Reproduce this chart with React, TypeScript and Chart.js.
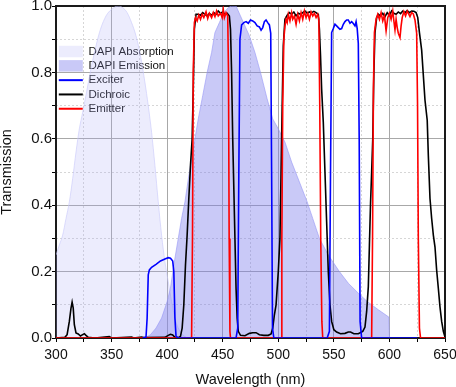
import React, { useEffect, useRef } from 'react';
import { Chart, registerables } from 'chart.js';

Chart.register(...registerables);

const FONT = '"Liberation Sans", Arial, sans-serif';

// DAPI absorption spectrum (normalised)
const absWl = [300, 303, 306, 309, 312, 315, 318, 321, 324, 328, 332, 336, 340, 345, 350, 356, 360, 364, 368, 372, 376, 380, 383, 386, 389, 392, 395, 398, 401, 404, 407, 410, 414, 418];
const absT = [0.25, 0.28, 0.31, 0.36, 0.41, 0.48, 0.56, 0.63, 0.68, 0.75, 0.82, 0.88, 0.93, 0.97, 0.99, 1.0, 0.995, 0.98, 0.95, 0.91, 0.85, 0.77, 0.7, 0.62, 0.52, 0.41, 0.31, 0.23, 0.17, 0.11, 0.06, 0.03, 0.01, 0];

// DAPI emission spectrum (normalised)
const emWl = [380, 385, 390, 395, 400, 403, 406, 410, 413, 416, 420, 424, 428, 432, 436, 440, 443, 447, 451, 455, 458, 462, 466, 470, 474, 479, 484, 490, 495, 500, 506, 512, 519, 526, 531, 537, 545, 555, 563, 572, 580, 590, 599.5, 600];
const emT = [0, 0.01, 0.03, 0.06, 0.11, 0.15, 0.22, 0.3, 0.36, 0.41, 0.5, 0.58, 0.66, 0.73, 0.8, 0.86, 0.92, 0.95, 0.98, 0.995, 1.0, 1.0, 0.97, 0.94, 0.91, 0.86, 0.8, 0.72, 0.66, 0.63, 0.59, 0.53, 0.47, 0.41, 0.36, 0.3, 0.25, 0.2, 0.165, 0.135, 0.11, 0.085, 0.063, 0];

// Exciter filter
const exWl = [
  378, 381, 382, 383, 384, 386, 390, 394, 398, 401, 403, 405, 406, 407, 408, 410,
  462, 463.5, 464.5, 465.5, 467, 469, 471, 473, 475, 477, 479, 481, 483, 484.5, 486, 487.5, 489, 490.5, 492, 493.2, 494, 494.8, 496,
  544, 546, 547, 548, 549.5, 551, 552.5, 554, 555.5, 557, 558.5, 560, 561.5, 563, 564.5, 566, 567.5, 569, 570, 571, 572, 572.8, 573.6, 575, 625,
];
const exT = [
  0, 0.003, 0.06, 0.19, 0.205, 0.213, 0.222, 0.232, 0.238, 0.242, 0.24, 0.232, 0.2, 0.06, 0.005, 0,
  0, 0.03, 0.5, 0.9, 0.943, 0.95, 0.953, 0.948, 0.958, 0.955, 0.95, 0.94, 0.937, 0.927, 0.935, 0.953, 0.958, 0.95, 0.943, 0.918, 0.5, 0.03, 0,
  0, 0.02, 0.5, 0.92, 0.932, 0.945, 0.94, 0.935, 0.93, 0.932, 0.945, 0.953, 0.958, 0.958, 0.948, 0.953, 0.947, 0.94, 0.953, 0.932, 0.887, 0.6, 0.05, 0, 0,
];

// Dichroic mirror
const diWl = [
  300, 308, 310, 312, 313.5, 314.5, 315.5, 316.5, 318, 320,
  322, 324, 325.5, 327, 329, 335, 348, 350, 368, 370,
  377, 380, 398, 401, 403, 405, 407, 410, 412, 413.5,
  415, 416.5, 418, 419.5, 421, 422.5, 423.5, 424.5, 426, 428,
  430, 432, 434, 436, 438, 440, 442, 444, 446, 448,
  450, 452, 454, 456, 457, 458, 459, 460, 461, 462,
  463, 464, 466, 470, 474, 477, 480, 483, 487, 491,
  493.5, 495, 496.5, 498, 500, 501.5, 502.5, 503.5, 504.5, 506,
  508, 510, 512, 514, 516, 518, 520, 522, 524, 526,
  528, 530, 532, 534, 536, 537, 538, 539, 540.5, 542,
  543.5, 545, 546.5, 548, 550, 552.5, 556, 560, 563, 565,
  568, 572, 576, 578, 579.5, 581, 582, 583, 584, 585,
  586, 587, 588.5, 590, 592, 594, 596, 598, 600, 602,
  604, 606, 608, 610, 612, 614, 616, 618, 620, 622,
  624, 625.5, 627, 629, 632, 634, 635, 636.5, 638, 639.5,
  641, 642.5, 644, 645.5, 647, 648.5, 650,
];
const diT = [
  0, 0.002, 0.01, 0.05, 0.09, 0.108, 0.09, 0.04, 0.015, 0.012,
  0.006, 0.01, 0.013, 0.008, 0.002, 0, 0.004, 0, 0.003, 0,
  0.003, 0.001, 0.002, 0.008, 0.011, 0.009, 0.002, 0.001, 0.005, 0.03,
  0.1, 0.22, 0.31, 0.42, 0.52, 0.6, 0.75, 0.93, 0.975, 0.975,
  0.972, 0.98, 0.975, 0.97, 0.978, 0.972, 0.98, 0.975, 0.985, 0.978,
  0.982, 0.975, 0.978, 0.97, 0.93, 0.8, 0.6, 0.45, 0.3, 0.15,
  0.06, 0.02, 0.008, 0.007, 0.014, 0.016, 0.016, 0.01, 0.008, 0.008,
  0.012, 0.03, 0.07, 0.1, 0.2, 0.3, 0.5, 0.7, 0.88, 0.96,
  0.972, 0.98, 0.975, 0.982, 0.97, 0.978, 0.975, 0.98, 0.985, 0.978,
  0.982, 0.98, 0.984, 0.98, 0.975, 0.93, 0.85, 0.75, 0.65, 0.5,
  0.35, 0.2, 0.1, 0.05, 0.025, 0.018, 0.013, 0.014, 0.018, 0.018,
  0.013, 0.013, 0.02, 0.033, 0.08, 0.154, 0.28, 0.406, 0.5, 0.6,
  0.8, 0.92, 0.965, 0.975, 0.97, 0.978, 0.968, 0.98, 0.972, 0.985,
  0.978, 0.975, 0.982, 0.977, 0.985, 0.98, 0.986, 0.98, 0.985, 0.984,
  0.98, 0.965, 0.92, 0.867, 0.716, 0.656, 0.55, 0.42, 0.36, 0.31,
  0.274, 0.204, 0.15, 0.093, 0.05, 0.02, 0.003,
];

// Emitter filter
const emitWl = [
  300, 422, 422.8, 423.5, 424.5, 425.5, 427, 428.5, 430, 431.5,
  433, 435, 436.5, 438, 440, 441.5, 443, 444.5, 446, 448,
  449.5, 450.5, 451.5, 453, 454.5, 455.2, 455.8, 456.5, 457, 502.5,
  503.2, 504, 505, 506, 507, 508, 509, 510.5, 512, 513,
  514.5, 516, 517.5, 519, 520.5, 522, 523.5, 525, 526.5, 528,
  529.5, 531, 532.5, 534, 535.5, 536.5, 537.3, 538.2, 539.2, 540,
  584, 584.8, 585.6, 586.5, 588, 589.5, 591, 592.5, 594, 595.5,
  597, 598.5, 600, 601.5, 603, 604, 605, 606, 607, 608,
  609.5, 610.5, 611.5, 613, 614.5, 616, 617.5, 618.5, 620, 621.5,
  623, 624.5, 625.3, 626, 627, 628, 650,
];
const emitT = [
  0, 0, 0.3, 0.8, 0.95, 0.965, 0.955, 0.973, 0.96, 0.975,
  0.965, 0.983, 0.962, 0.978, 0.965, 0.98, 0.968, 0.985, 0.97, 0.978,
  0.965, 0.99, 0.965, 0.98, 0.97, 0.8, 0.3, 0.02, 0, 0,
  0.3, 0.7, 0.9, 0.94, 0.96, 0.95, 0.975, 0.955, 0.98, 0.96,
  0.97, 0.945, 0.975, 0.955, 0.98, 0.96, 0.985, 0.965, 0.978, 0.96,
  0.982, 0.97, 0.978, 0.965, 0.975, 0.96, 0.7, 0.3, 0.05, 0,
  0, 0.3, 0.75, 0.92, 0.96, 0.975, 0.96, 0.98, 0.955, 0.972,
  0.925, 0.965, 0.978, 0.96, 0.985, 0.955, 0.928, 0.96, 0.935, 0.918,
  0.905, 0.94, 0.965, 0.983, 0.97, 0.985, 0.975, 0.968, 0.98, 0.976,
  0.958, 0.918, 0.7, 0.3, 0.03, 0, 0,
];

const seriesLabels = ['DAPI Absorption', 'DAPI Emission', 'Exciter', 'Dichroic', 'Emitter'];
const xTicks = { min: 300, max: 650, step: 25, labelEvery: 50 };
const yTicks = { min: 0, max: 1, step: 0.1 };

const toPts = (xs: number[], ys: number[]) => xs.map((x, i) => ({ x, y: ys[i] }));

const LEGEND_OFFSET = 43;

const framePlugin = {
  id: 'frame',
  afterLayout(chart: any) {
    const lg = chart.legend;
    if (lg) {
      lg.top += LEGEND_OFFSET;
      lg.bottom += LEGEND_OFFSET;
    }
  },
  beforeDatasetsDraw(chart: any) {
    const { ctx, chartArea: a } = chart;
    ctx.save();
    ctx.strokeStyle = '#1a1a1a';
    ctx.lineWidth = 2;
    ctx.strokeRect(a.left, a.top, a.right - a.left, a.bottom - a.top);
    ctx.restore();
  },
};

export default function App() {
  const ref = useRef<HTMLCanvasElement>(null);
  useEffect(() => {
    const canvas = ref.current;
    if (!canvas) return;
    const isMajorX = (v: number) => Math.abs(v % xTicks.labelEvery) < 1e-6;
    const isMajorY = (v: number) => Math.round(v * 10) % 2 === 0;
    const xTickFont = { family: FONT, size: 14 };
    const yTickFont = { family: FONT, size: 15 };
    const titleFont = { family: FONT, size: 14.5, lineHeight: 1 };
    const line = (label: string, xs: number[], ys: number[], color: string, order: number) => ({
      label,
      data: toPts(xs, ys),
      borderColor: color,
      backgroundColor: color,
      borderWidth: 1.6,
      pointRadius: 0,
      fill: false,
      tension: 0,
      order,
    });
    const chart = new Chart(canvas, {
      type: 'line',
      data: {
        datasets: [
          {
            label: seriesLabels[0],
            data: toPts(absWl, absT),
            fill: 'origin',
            backgroundColor: 'rgba(170,170,245,0.22)',
            borderColor: 'rgba(200,200,250,0.6)',
            borderWidth: 1,
            pointRadius: 0,
            cubicInterpolationMode: 'monotone',
            order: 4,
          },
          {
            label: seriesLabels[1],
            data: toPts(emWl, emT),
            fill: 'origin',
            backgroundColor: 'rgba(120,120,235,0.4)',
            borderColor: 'rgba(150,150,245,0.6)',
            borderWidth: 1,
            pointRadius: 0,
            tension: 0,
            order: 3,
          },
          line(seriesLabels[2], exWl, exT, '#0000ff', 0),
          line(seriesLabels[3], diWl, diT, '#000000', 2),
          line(seriesLabels[4], emitWl, emitT, '#ff0000', 1),
        ] as any,
      },
      options: {
        animation: false,
        responsive: false,
        events: [],
        layout: { padding: { top: 6, right: 11, bottom: 0, left: 0 } },
        plugins: {
          tooltip: { enabled: false },
          legend: {
            position: 'chartArea',
            align: 'start',
            labels: {
              font: { family: FONT, size: 11.5 },
              color: '#111',
              usePointStyle: true,
              pointStyleWidth: 24,
              boxHeight: 13,
              padding: 2.8,
              sort: (a: any, b: any) => a.datasetIndex - b.datasetIndex,
              generateLabels: (ch: any) => {
                const items = (Chart.defaults.plugins.legend.labels as any).generateLabels(ch);
                return items.map((it: any) => {
                  const ds = ch.data.datasets[it.datasetIndex];
                  if (ds.fill) {
                    it.pointStyle = 'rect';
                    it.lineWidth = 0;
                    it.fillStyle = ds.backgroundColor;
                    it.strokeStyle = 'rgba(0,0,0,0)';
                  } else {
                    it.pointStyle = 'line';
                    it.lineWidth = 2;
                    it.strokeStyle = ds.borderColor;
                  }
                  return it;
                });
              },
            },
          },
        },
        scales: {
          x: {
            type: 'linear',
            min: xTicks.min,
            max: xTicks.max,
            ticks: {
              stepSize: xTicks.step,
              autoSkip: false,
              maxRotation: 0,
              font: xTickFont,
              color: '#111',
              padding: 5,
              callback: (v: any) => (isMajorX(Number(v)) ? String(v) : ''),
            },
            grid: {
              color: (c: any) => (c.tick && isMajorX(c.tick.value) ? '#a8a8a8' : '#d6d6d6'),
              lineWidth: 1,
              tickColor: '#000',
              tickLength: 4,
            },
            border: { display: false, dash: (c: any) => (c.tick && !isMajorX(c.tick.value) ? [2, 2] : []) },
            title: { display: true, text: 'Wavelength (nm)', font: titleFont, color: '#111', padding: { top: 0, bottom: 0 } },
            afterFit: (s: any) => {
              s.height = 49;
              s.paddingLeft = 0;
              s.paddingRight = 0;
            },
          },
          y: {
            type: 'linear',
            min: yTicks.min,
            max: yTicks.max,
            ticks: {
              stepSize: yTicks.step,
              autoSkip: false,
              font: yTickFont,
              color: '#111',
              padding: 0,
              callback: (v: any) => (isMajorY(Number(v)) ? Number(v).toFixed(1) : ''),
            },
            grid: {
              color: (c: any) => (c.tick && isMajorY(c.tick.value) ? '#a8a8a8' : '#d6d6d6'),
              lineWidth: 1,
              tickColor: '#000',
              tickLength: 4,
            },
            border: { display: false, dash: (c: any) => (c.tick && !isMajorY(c.tick.value) ? [2, 2] : []) },
            title: { display: true, text: 'Transmission', font: titleFont, color: '#111', padding: { top: 0, bottom: 0 } },
            afterFit: (s: any) => {
              s.width = 56;
              s.paddingTop = 0;
              s.paddingBottom = 0;
            },
          },
        },
      } as any,
      plugins: [framePlugin],
    });
    return () => chart.destroy();
  }, []);
  return (
    <div style={{ position: 'fixed', left: 0, top: 0, width: 456, height: 387, background: '#fff' }}>
      <canvas ref={ref} width={456} height={387} style={{ display: 'block' }} />
    </div>
  );
}
